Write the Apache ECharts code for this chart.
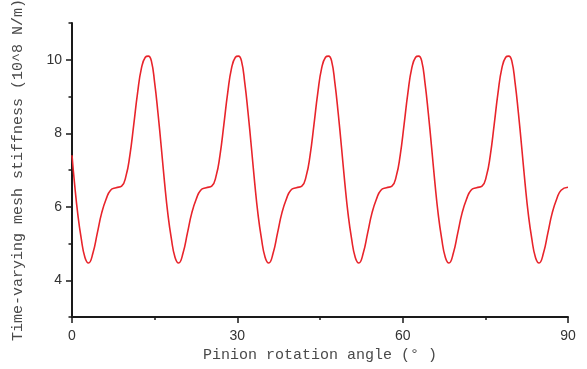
<!DOCTYPE html>
<html>
<head>
<meta charset="utf-8">
<script src="https://cdn.jsdelivr.net/npm/echarts@6/dist/echarts.min.js"></script>
<style>
  html, body { margin: 0; padding: 0; background: #fff; }
  #chart { width: 587px; height: 369px; }
</style>
</head>
<body>
<div id="chart"></div>
<script>
// Pinion rotation angle (degrees) of each sampled point
const angleDeg = [
  0, 0.45, 1.05, 1.65, 2.35,
  3.0, 3.8, 4.6, 5.4, 6.2, 7.0, 8.0, 9.0, 9.8, 10.5, 11.2, 11.9, 12.6, 13.3, 13.85, 14.4, 15.0, 15.6, 16.2, 16.8, 17.4, 18.0, 18.7,
  19.35, 20.15, 20.95, 21.75, 22.55, 23.35, 24.35, 25.35, 26.15, 26.85, 27.55, 28.25, 28.95, 29.65, 30.2, 30.75, 31.35, 31.95, 32.55, 33.15, 33.75, 34.35, 35.05,
  35.7, 36.5, 37.3, 38.1, 38.9, 39.7, 40.7, 41.7, 42.5, 43.2, 43.9, 44.6, 45.3, 46.0, 46.55, 47.1, 47.7, 48.3, 48.9, 49.5, 50.1, 50.7, 51.4,
  52.05, 52.85, 53.65, 54.45, 55.25, 56.05, 57.05, 58.05, 58.85, 59.55, 60.25, 60.95, 61.65, 62.35, 62.9, 63.45, 64.05, 64.65, 65.25, 65.85, 66.45, 67.05, 67.75,
  68.4, 69.2, 70.0, 70.8, 71.6, 72.4, 73.4, 74.4, 75.2, 75.9, 76.6, 77.3, 78.0, 78.7, 79.25, 79.8, 80.4, 81.0, 81.6, 82.2, 82.8, 83.4, 84.1,
  84.75, 85.55, 86.35, 87.15, 87.95, 88.75, 90
];

// Time-varying mesh stiffness (10^8 N/m) at those angles
const stiffness = [
  7.4, 6.65, 5.8, 5.16, 4.62,
  4.47, 4.74, 5.29, 5.84, 6.21, 6.45, 6.52, 6.56, 6.84, 7.4, 8.23, 9.1, 9.77, 10.07, 10.1, 9.97, 9.37, 8.55, 7.62, 6.65, 5.8, 5.16, 4.62,
  4.47, 4.74, 5.29, 5.84, 6.21, 6.45, 6.52, 6.56, 6.84, 7.4, 8.23, 9.1, 9.77, 10.07, 10.1, 9.97, 9.37, 8.55, 7.62, 6.65, 5.8, 5.16, 4.62,
  4.47, 4.74, 5.29, 5.84, 6.21, 6.45, 6.52, 6.56, 6.84, 7.4, 8.23, 9.1, 9.77, 10.07, 10.1, 9.97, 9.37, 8.55, 7.62, 6.65, 5.8, 5.16, 4.62,
  4.47, 4.74, 5.29, 5.84, 6.21, 6.45, 6.52, 6.56, 6.84, 7.4, 8.23, 9.1, 9.77, 10.07, 10.1, 9.97, 9.37, 8.55, 7.62, 6.65, 5.8, 5.16, 4.62,
  4.47, 4.74, 5.29, 5.84, 6.21, 6.45, 6.52, 6.56, 6.84, 7.4, 8.23, 9.1, 9.77, 10.07, 10.1, 9.97, 9.37, 8.55, 7.62, 6.65, 5.8, 5.16, 4.62,
  4.47, 4.74, 5.29, 5.84, 6.21, 6.45, 6.53
];

// Axis tick labels
const xTickLabels = [0, 30, 60, 90];
const yTickLabels = [4, 6, 8, 10];
const yMinorTicks = [3, 5, 7, 9, 11];

const points = angleDeg.map((a, i) => [a, stiffness[i]]);

const axisColor = '#1a1a1a';
const labelFont = { fontFamily: '"Liberation Sans", Arial, sans-serif', fontSize: 14, color: '#333' };
const titleFont = { fontFamily: '"Liberation Mono", "DejaVu Sans Mono", monospace', fontSize: 15, color: '#4a4a4a' };

const chart = echarts.init(document.getElementById('chart'), null, { renderer: 'canvas' });

chart.setOption({
  animation: false,
  backgroundColor: '#fff',
  grid: { left: 72, right: 19, top: 23, bottom: 52, containLabel: false, outerBoundsMode: 'none' },
  xAxis: {
    type: 'value',
    min: 0,
    max: 90,
    interval: 30,
    name: 'Pinion rotation angle (° )',
    nameLocation: 'middle',
    nameGap: 30,
    nameTextStyle: titleFont,
    axisLine: { show: true, lineStyle: { color: axisColor, width: 2 } },
    axisTick: { show: true, inside: false, length: 6, lineStyle: { color: axisColor, width: 1.5 } },
    minorTick: { show: true, splitNumber: 2, length: 3, lineStyle: { color: axisColor, width: 1.5 } },
    axisLabel: Object.assign({ margin: 12, customValues: xTickLabels }, labelFont),
    splitLine: { show: false },
    minorSplitLine: { show: false }
  },
  yAxis: [
    {
      type: 'value',
      min: 3,
      max: 11,
      interval: 1,
      name: 'Time-varying mesh stiffness (10^8 N/m)',
      nameLocation: 'middle',
      nameGap: 46,
      nameRotate: 90,
      nameTextStyle: titleFont,
      axisLine: { show: true, lineStyle: { color: axisColor, width: 2 } },
      axisTick: { show: true, inside: false, length: 6, customValues: yTickLabels, lineStyle: { color: axisColor, width: 1.5 } },
      axisLabel: Object.assign({ margin: 10, customValues: yTickLabels }, labelFont),
      splitLine: { show: false }
    },
    {
      // second scale carries only the short intermediate ticks
      type: 'value',
      position: 'left',
      min: 3,
      max: 11,
      interval: 1,
      axisLine: { show: false },
      axisTick: { show: true, inside: false, length: 3.5, customValues: yMinorTicks, lineStyle: { color: axisColor, width: 1.5 } },
      axisLabel: { show: false },
      splitLine: { show: false }
    }
  ],
  series: [
    {
      type: 'line',
      xAxisIndex: 0,
      yAxisIndex: 0,
      data: points,
      showSymbol: false,
      smooth: 0.5,
      lineStyle: { color: '#e8242b', width: 1.6 },
      clip: true
    }
  ]
});
</script>
</body>
</html>
